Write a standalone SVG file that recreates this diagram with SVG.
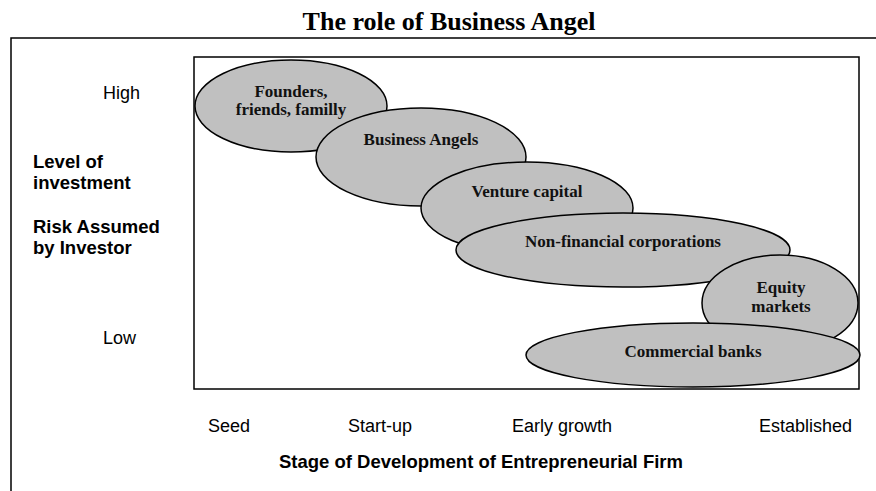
<svg xmlns="http://www.w3.org/2000/svg" width="876" height="491" viewBox="0 0 876 491">
<style>
.frame{fill:none;stroke:#000;stroke-width:1.5}
.ell{fill:#c0c0c0;stroke:#000;stroke-width:1.5}
.lbl{font-family:"Liberation Serif","Times New Roman",serif;font-weight:bold;font-size:17px;fill:#111;text-anchor:middle}
.ax{font-family:"Liberation Sans",Arial,sans-serif;font-size:18px;fill:#000}
.axb{font-family:"Liberation Sans",Arial,sans-serif;font-size:18.5px;font-weight:bold;fill:#000}
</style>
<rect width="876" height="491" fill="#fff"/>
<text x="449" y="30" font-family="'Liberation Serif','Times New Roman',serif" font-weight="bold" font-size="26" text-anchor="middle">The role of Business Angel</text>
<g id="outer-frame"><path class="frame" d="M11,491 V38 H876"/></g>
<g id="plot-area"><rect class="frame" x="194" y="57" width="665" height="332"/></g>
<g id="axis-labels">
<text class="ax" x="103" y="99">High</text>
<text class="ax" x="103" y="344">Low</text>
<text class="axb" x="33" y="168">Level of</text>
<text class="axb" x="33" y="189">investment</text>
<text class="axb" x="33" y="233">Risk Assumed</text>
<text class="axb" x="33" y="254">by Investor</text>
<text class="ax" x="208" y="432">Seed</text>
<text class="ax" x="348" y="432">Start-up</text>
<text class="ax" x="512" y="432">Early growth</text>
<text class="ax" x="759" y="432">Established</text>
<text class="axb" x="279" y="468">Stage of Development of Entrepreneurial Firm</text>
</g>
<g id="connectors"></g>
<g id="node-founders"><ellipse class="ell" cx="291" cy="106" rx="96" ry="46"/><text class="lbl" x="291" y="97">Founders,</text><text class="lbl" x="291" y="115">friends, familly</text></g>
<g id="node-business-angels"><ellipse class="ell" cx="421" cy="157" rx="105" ry="49"/><text class="lbl" x="421" y="145">Business Angels</text></g>
<g id="node-venture-capital"><ellipse class="ell" cx="527" cy="208" rx="106" ry="46"/><text class="lbl" x="527" y="197">Venture capital</text></g>
<g id="node-non-financial"><ellipse class="ell" cx="623" cy="250" rx="167" ry="37"/><text class="lbl" x="623" y="247">Non-financial corporations</text></g>
<g id="node-equity-markets"><ellipse class="ell" cx="780" cy="303" rx="78" ry="48"/><text class="lbl" x="781" y="293">Equity</text><text class="lbl" x="781" y="312">markets</text></g>
<g id="node-commercial-banks"><ellipse class="ell" cx="693" cy="355" rx="167" ry="32"/><text class="lbl" x="693" y="357">Commercial banks</text></g>
</svg>
